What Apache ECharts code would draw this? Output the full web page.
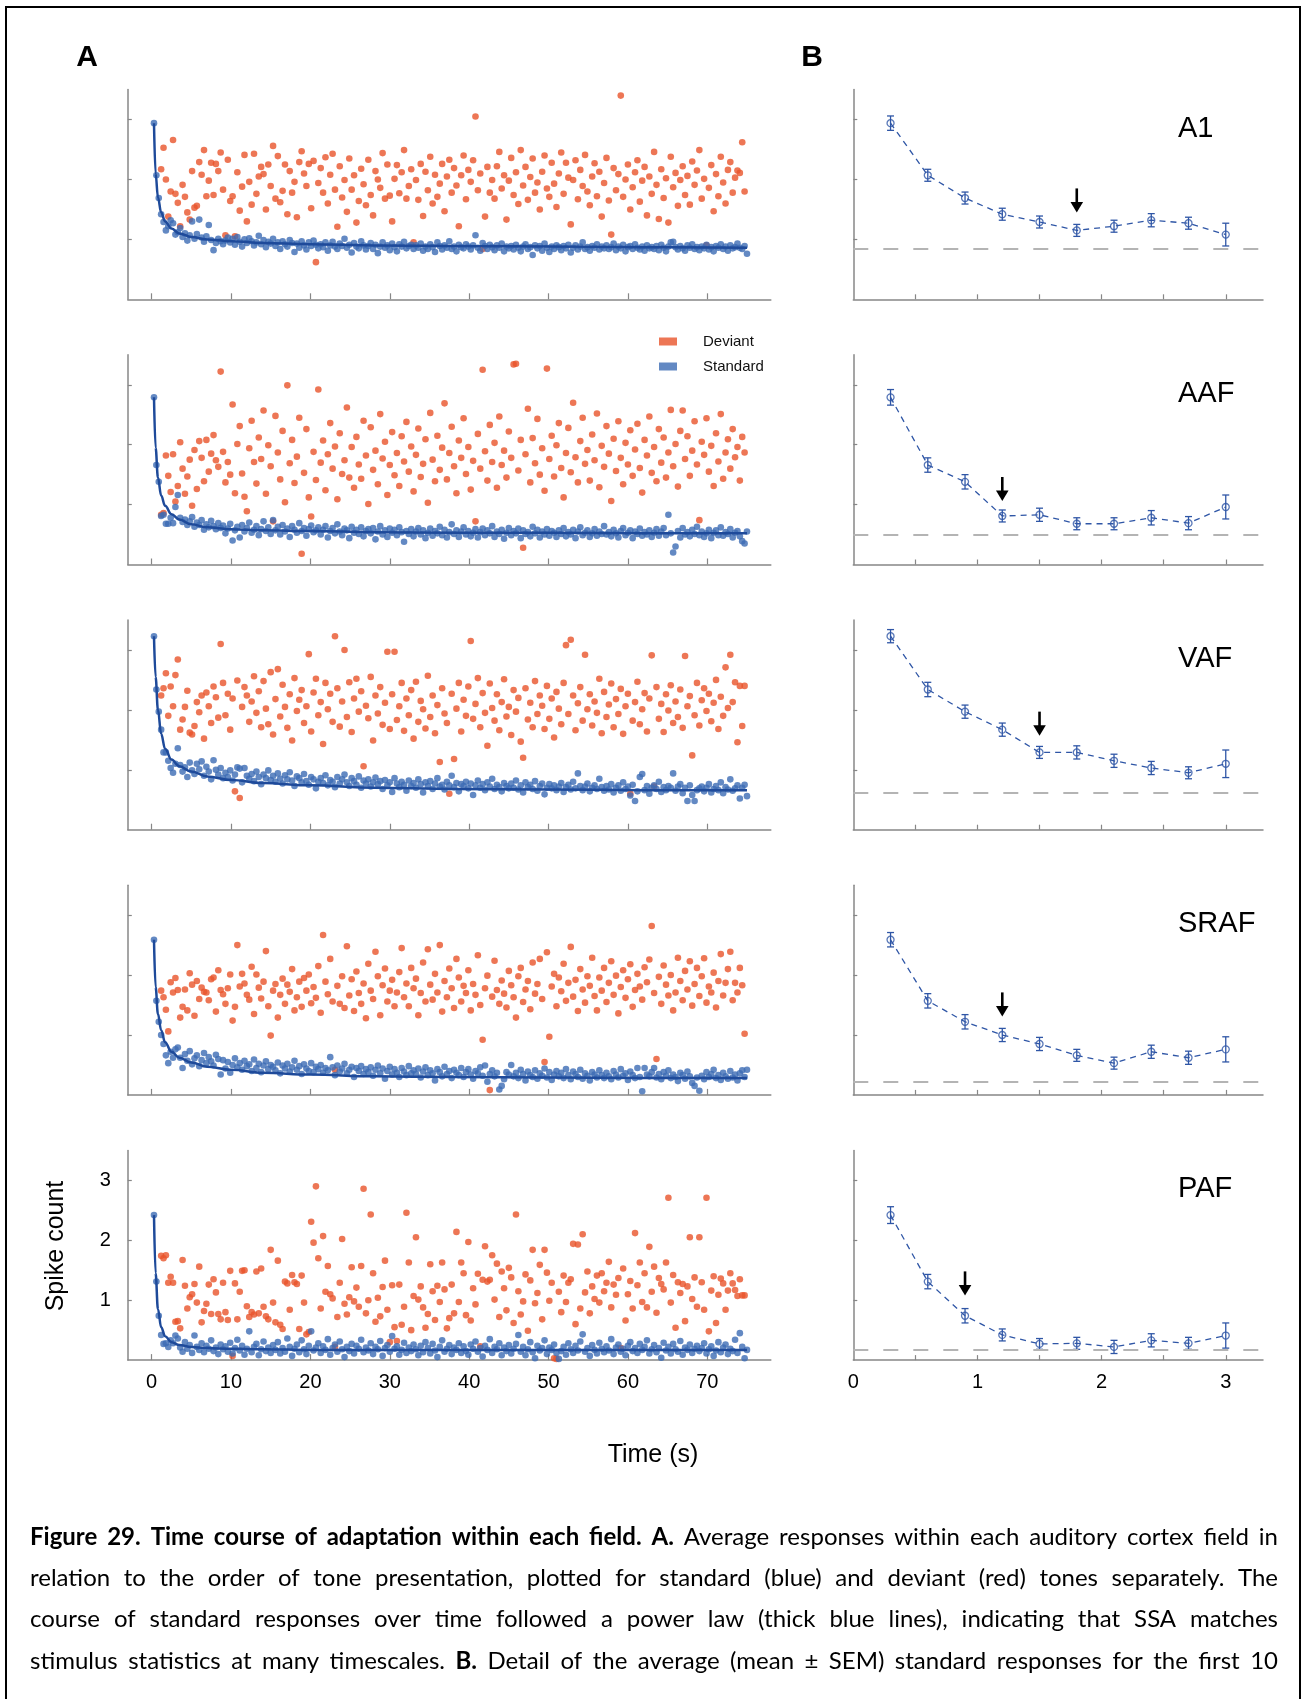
<!DOCTYPE html>
<html>
<head>
<meta charset="utf-8">
<title>Figure 29 - time course of adaptation</title>
<script src="https://cdn.jsdelivr.net/npm/echarts@6/dist/echarts.min.js"></script>
<style>
  html, body { margin: 0; padding: 0; background: #fff; }
  #chart { width: 1302px; height: 1699px; }
</style>
</head>
<body>
<div id="chart"></div>
<script>
// ---- data: spike counts are stored in hundredths ----
const fields = ['A1', 'AAF', 'VAF', 'SRAF', 'PAF']
const stdStep = 0.3   // s between tone presentations
const devStart = 1.2  // time of first deviant (s)

// standard responses (blue), one per tone from 0.3 s
const stdA1 = [
  294,207,169,142,129,115,122,132,127,108,
  112,119,104,110,98,107,130,101,109,133,103,96,105,124,99,82,94,101,97,92,
  98,103,95,101,91,104,96,88,100,94,102,97,90,95,106,92,99,87,96,93,
  101,89,95,84,97,92,88,99,94,79,93,86,97,90,83,95,89,98,91,85,
  92,87,95,81,90,96,88,84,93,89,101,86,91,78,94,88,85,97,90,83,
  89,94,84,91,77,88,95,86,90,82,93,87,80,92,88,96,85,89,91,84,
  90,86,93,81,88,84,92,87,79,95,89,83,90,86,97,84,88,80,91,87,
  85,92,88,83,90,107,86,81,94,89,84,91,87,82,90,86,93,80,88,85,
  89,83,91,86,80,88,92,84,87,74,90,85,89,81,93,86,79,88,84,90,
  87,82,89,85,91,78,86,90,83,88,95,84,87,81,89,86,92,83,88,85,
  90,84,87,93,82,88,85,91,80,87,89,84,92,86,83,88,81,90,85,87,
  84,89,82,91,86,80,88,95,96,87,83,89,85,81,90,86,92,84,87,82,
  88,85,91,83,87,80,89,86,92,84,88,81,90,85,87,93,86,84,89,76
]
const stdAAF = [
  279,166,138,81,83,68,68,78,69,96,
  116,78,71,75,66,72,79,63,70,66,74,58,67,62,73,64,59,69,61,65,
  52,60,68,40,57,63,45,66,55,61,70,53,58,64,49,59,72,56,62,51,
  74,57,63,50,66,55,60,46,64,58,53,69,56,61,48,59,65,54,57,62,
  50,58,64,45,56,61,52,67,55,49,60,57,44,63,53,58,51,62,47,56,
  59,52,61,42,55,64,50,57,46,60,53,58,49,62,54,38,56,51,59,47,
  55,61,50,57,44,53,60,48,56,52,63,49,58,45,54,67,51,57,46,55,
  62,50,56,47,53,59,45,54,60,49,57,52,64,46,55,51,58,43,53,61,
  49,56,52,60,44,57,51,54,47,63,52,58,45,55,50,59,48,56,53,46,
  57,51,61,47,54,50,58,44,55,62,49,53,57,46,52,59,48,55,51,64,
  50,54,47,58,52,45,56,61,49,53,57,44,55,51,60,48,54,50,57,46,
  53,59,48,55,61,49,83,52,20,30,56,45,61,50,54,47,58,51,63,49,
  55,46,52,58,44,53,57,49,62,48,54,51,59,45,53,56,47,39,35,55
]
const stdVAF = [
  323,234,197,167,129,129,115,103,95,110,
  136,108,97,104,88,112,99,93,110,101,114,90,105,97,84,116,100,92,103,86,
  95,88,99,82,92,104,102,79,103,90,85,93,81,97,88,76,92,86,99,83,
  90,80,94,85,77,91,84,96,82,73,89,86,79,93,81,75,88,84,69,80,
  86,78,91,74,83,80,71,88,77,84,92,79,73,86,81,75,89,70,82,77,
  84,72,79,87,76,81,68,83,74,79,63,86,77,71,80,75,65,82,73,78,
  70,84,76,62,79,73,81,68,77,86,72,75,67,80,74,90,71,78,64,76,
  73,80,69,77,58,74,82,70,76,66,79,72,85,68,75,71,64,78,73,69,
  77,70,82,67,74,62,79,71,75,68,81,65,73,77,59,70,76,69,74,66,
  72,78,63,71,75,67,80,69,94,73,66,72,77,64,70,74,68,85,71,65,
  73,67,76,62,70,74,65,79,68,72,57,75,48,64,88,93,66,73,60,70,
  74,68,80,63,71,66,73,70,94,65,72,76,61,70,48,74,58,48,66,69,
  72,64,70,76,62,68,73,66,79,61,71,67,84,65,69,74,52,70,75,56
]
const stdSRAF = [
  259,157,122,100,85,66,53,72,62,76,
  79,62,45,68,57,73,51,61,66,48,58,70,53,63,56,49,67,60,34,58,
  44,55,37,50,61,46,53,42,57,48,51,40,59,45,52,38,49,56,43,50,
  47,41,54,36,49,44,52,39,46,57,42,48,35,51,44,40,53,38,47,43,
  50,37,45,41,63,46,33,49,39,44,52,36,42,47,30,45,40,48,35,43,
  38,46,32,42,49,36,44,27,40,47,34,43,37,30,45,39,33,48,36,41,
  35,44,29,39,46,33,41,36,24,43,38,31,47,35,40,28,42,37,33,45,
  30,38,43,34,27,40,36,46,32,49,22,35,41,31,37,9,15,26,38,34,
  50,31,37,28,42,35,24,39,33,30,41,27,36,32,44,29,38,25,34,40,
  31,37,28,43,33,26,39,35,30,42,27,36,32,24,38,34,29,41,33,28,
  37,31,26,40,34,29,43,32,36,25,39,33,28,45,30,6,45,34,31,38,
  45,29,35,26,38,32,41,28,34,30,23,37,33,27,39,31,20,15,29,7,
  32,26,38,30,35,42,28,33,25,37,31,27,40,29,34,24,36,41,30,42
]
const stdPAF = [
  242,131,74,42,27,28,22,33,28,41,
  36,21,14,30,19,25,12,41,22,17,28,13,24,19,33,15,21,10,26,18,
  23,14,29,11,20,34,16,24,9,19,48,13,22,27,8,18,31,15,21,12,
  25,17,30,11,20,14,36,22,7,19,26,13,33,18,10,24,48,16,21,28,
  12,23,17,35,9,20,26,14,31,18,5,22,15,27,11,24,19,34,13,21,
  16,28,10,22,18,32,7,20,25,14,40,19,23,9,17,29,12,21,15,26,
  18,8,24,13,30,20,11,27,16,5,22,33,14,19,25,10,21,17,28,12,
  23,15,9,26,19,31,14,20,6,24,17,35,12,22,18,28,8,21,15,25,
  11,19,27,42,14,22,8,18,30,13,3,24,16,20,33,10,21,17,26,12,
  2,15,22,9,28,18,12,24,16,31,43,14,20,7,25,17,11,29,19,13,
  23,16,35,10,21,26,14,19,8,24,30,15,20,12,27,17,22,33,11,18,
  25,13,20,4,29,16,22,11,27,18,14,32,9,21,17,26,12,19,24,15,
  20,28,11,18,23,7,16,30,13,21,26,10,19,15,34,12,45,22,3,17
]

// deviant responses (red), one per tone from 1.2 s
const devA1 = [
  217,253,200,138,180,266,176,161,122,191,171,145,133,214,153,156,229,208,249,172,
  198,228,174,226,214,245,183,107,233,164,172,105,212,148,188,241,130,196,158,243,
  176,205,221,209,150,225,189,256,168,239,162,181,225,142,214,178,196,137,229,247,
  210,189,226,152,231,62,194,219,178,237,160,208,243,183,121,222,170,199,146,235,
  183,207,128,164,218,192,157,233,174,140,214,200,186,244,168,225,173,130,201,224,
  177,212,249,168,189,217,95,199,166,226,139,213,182,238,160,208,171,193,226,147,
  205,233,178,219,190,122,207,240,167,216,196,232,305,182,210,84,138,221,178,199,
  168,222,246,185,207,133,198,236,174,212,159,249,190,221,166,204,235,178,195,150,
  213,240,185,171,228,193,154,210,245,176,228,203,125,199,232,167,216,189,241,180,
  157,205,227,172,213,138,194,236,165,108,219,182,209,340,171,200,225,150,187,212,
  232,163,198,221,140,205,176,246,191,134,217,169,202,128,238,187,211,156,199,222,
  174,206,158,230,191,215,249,168,201,90,186,224,147,209,172,238,195,160,216,229,
  178,203,215,211,262,180
]
const devAAF = [
  83,86,182,148,121,184,105,131,204,160,118,147,175,98,191,126,206,178,139,208,
  155,185,216,174,163,322,188,137,171,150,267,119,201,231,152,113,89,194,240,171,
  135,212,176,257,118,199,164,72,248,187,142,223,104,299,169,208,136,180,245,18,
  153,226,112,80,188,141,292,170,207,124,184,236,160,197,109,219,151,174,262,145,
  196,128,213,167,143,240,182,101,229,158,190,134,251,177,205,116,166,221,149,186,
  131,214,172,238,155,197,122,183,227,146,168,209,103,253,175,139,215,158,195,269,
  142,186,230,164,119,207,178,244,151,196,125,173,72,218,160,325,189,140,233,171,
  203,128,247,166,190,145,222,178,334,335,157,208,28,184,260,137,211,169,243,150,
  194,123,327,176,215,147,199,236,161,112,186,228,154,270,179,137,206,245,168,191,
  140,217,174,252,129,198,163,231,185,106,210,156,239,178,134,203,167,224,148,192,
  235,161,120,208,182,247,153,196,139,226,170,212,145,187,258,164,201,130,223,257,
  176,214,148,190,239,167,74,205,183,244,155,198,131,219,172,251,143,187,209,160,
  226,179,196,140,213,187
]
const devVAF = [
  224,236,261,190,239,206,258,284,167,184,205,232,162,159,173,213,196,224,152,229,
  206,178,239,221,187,310,245,191,227,167,219,64,249,53,205,238,224,180,214,256,
  195,231,171,248,202,176,263,159,218,268,189,242,205,170,226,149,253,198,217,233,
  178,206,293,164,229,252,191,213,143,245,201,227,180,323,236,172,214,300,188,246,
  163,219,252,197,231,106,207,186,255,149,224,194,238,175,212,297,168,226,297,183,
  206,245,165,219,191,233,152,247,180,215,201,169,257,188,224,161,208,113,236,194,
  178,60,227,118,202,245,164,217,190,239,315,185,210,253,171,228,195,140,244,203,
  182,226,166,213,251,189,205,158,233,197,220,147,120,236,184,212,171,248,193,224,
  207,168,240,185,219,154,230,202,176,245,308,193,317,224,166,211,238,182,292,201,
  226,174,214,195,252,161,230,188,209,244,171,218,193,235,160,206,227,60,182,213,
  247,176,201,228,164,219,291,72,238,185,210,163,226,199,241,178,214,188,234,170,
  290,206,223,124,191,245,174,216,236,198,227,181,212,250,168,222,190,271,203,292,
  213,246,146,240,173,240
]
const devSRAF = [
  174,163,142,106,188,171,195,175,129,147,176,141,203,184,132,190,160,179,172,171,
  158,193,196,139,208,175,168,152,178,201,124,147,250,181,202,186,167,159,214,135,
  201,179,161,189,240,148,99,174,185,129,167,194,152,184,172,210,141,163,189,147,
  195,174,201,153,180,162,215,137,267,189,168,227,156,42,182,152,198,145,248,166,
  193,140,206,170,152,186,128,219,174,160,239,198,133,183,211,156,174,192,148,171,
  205,245,163,186,148,212,178,194,133,170,221,156,243,184,159,202,171,250,139,190,
  163,211,178,145,227,196,156,182,170,208,141,185,167,233,150,92,178,199,8,164,
  224,175,152,191,169,146,207,183,163,129,198,212,155,176,190,143,221,169,185,227,
  160,55,238,97,181,202,148,196,173,219,157,187,247,164,192,140,210,176,154,198,
  182,229,165,141,196,174,212,155,187,223,167,199,136,180,208,162,193,218,147,175,
  202,181,159,213,188,226,282,170,60,197,152,216,184,166,200,141,171,229,190,158,
  207,176,223,149,185,212,165,198,228,154,181,171,204,146,190,235,166,187,210,239,
  158,187,171,212,183,102
]
const devPAF = [
  174,170,175,129,139,129,64,65,53,167,124,86,105,110,127,96,156,63,82,94,
  126,77,135,113,77,68,129,80,67,149,7,128,68,114,149,150,90,72,80,76,
  148,78,153,89,73,68,184,96,63,166,59,52,131,128,84,142,130,127,52,141,
  96,43,47,231,196,290,170,86,207,114,157,110,103,22,72,129,202,94,76,105,
  155,98,121,89,157,286,78,100,243,145,64,104,73,122,166,84,30,125,55,32,
  126,59,89,246,163,50,107,205,101,123,88,54,77,160,115,67,124,97,163,118,
  53,70,126,78,214,97,163,145,75,197,66,120,93,144,23,134,190,131,134,175,
  101,161,72,148,120,83,154,138,62,243,115,76,98,143,49,133,184,95,112,159,
  68,184,146,99,129,3,2,114,80,141,97,129,135,194,60,193,86,210,113,148,
  78,123,102,141,96,145,115,129,164,88,126,109,137,20,153,66,110,132,86,212,
  125,163,97,145,88,189,114,156,79,137,127,118,163,271,96,142,54,130,112,127,
  65,123,205,102,138,89,205,130,84,271,48,116,140,62,109,136,128,84,116,145,
  128,117,107,135,108,108
]

// power-law fits
const fitT = [0.3, 0.5, 0.8, 1.2, 1.7, 2.5, 3.5, 5, 7, 10, 14, 20, 28, 38, 50, 62, 75]
const fitA1 = [294,210,170,145,130,118,110,104,100,97,94,92,90,89,88,87,86]
const fitAAF = [279,195,145,115,98,84,75,67,62,59,57,56,54,53,53,52,52]
const fitVAF = [323,255,200,160,135,117,106,97,89,83,78,74,70,68,67,66,66]
const fitSRAF = [259,180,135,108,88,72,62,54,47,42,37,34,31,30,29,28,28]
const fitPAF = [242,145,85,55,40,30,25,22,20,19,18,17,17,17,17,17,17]

// SEM of the first 10 standards (panel B)
const semA1 = [12,10,10,10,10,10,10,11,10,19]
const semAAF = [13,12,12,10,11,10,10,12,11,20]
const semVAF = [11,12,11,11,10,11,11,11,10,23]
const semSRAF = [12,12,12,11,11,10,10,11,11,21]
const semPAF = [14,12,12,10,9,10,11,11,10,21]

const baseLine = [0.84, 0.50, 0.61, 0.22, 0.17]   // grey dashed asymptote
const arrowX = [1.8, 1.2, 1.5, 1.2, 0.9]
const arrowTip = [1.45, 1.06, 1.57, 1.31, 1.08]

const ticksA = [0, 10, 20, 30, 40, 50, 60, 70]
const ticksB = [0.5, 1, 1.5, 2, 2.5, 3]
const labelsB = [0, 1, 2, 3]
const ticksY = [1, 2, 3]

const stdAll = [stdA1, stdAAF, stdVAF, stdSRAF, stdPAF]
const devAll = [devA1, devAAF, devVAF, devSRAF, devPAF]
const fitAll = [fitA1, fitAAF, fitVAF, fitSRAF, fitPAF]
const semAll = [semA1, semAAF, semVAF, semSRAF, semPAF]

// ---- styles ----
const FONT = '"Liberation Sans", Arial, sans-serif'
const RED = '#E8542B'
const BLUE = '#3C6CB4'
const FIT = '#1E4A9A'
const MEAN = '#2F56A6'
const AXIS = '#878787'

const rowBottom = [299.3, 564.5, 829.7, 1094.9, 1360.1]
const plotH = 209.7

const chart = echarts.init(document.getElementById('chart'))

// error bar with caps
function renderErr(params, api) {
  const x = api.value(0), y = api.value(1), e = api.value(2)
  const top = api.coord([x, y + e])
  const bot = api.coord([x, y - e])
  const st = { stroke: MEAN, lineWidth: 1.3 }
  return {
    type: 'group',
    children: [
      { type: 'line', shape: { x1: top[0], y1: top[1], x2: bot[0], y2: bot[1] }, style: st },
      { type: 'line', shape: { x1: top[0] - 3.5, y1: top[1], x2: top[0] + 3.5, y2: top[1] }, style: st },
      { type: 'line', shape: { x1: bot[0] - 3.5, y1: bot[1], x2: bot[0] + 3.5, y2: bot[1] }, style: st }
    ]
  }
}

// black down arrow, tip at the data point
function renderArrow(params, api) {
  const p = api.coord([api.value(0), api.value(1)])
  return {
    type: 'group',
    children: [
      { type: 'line', shape: { x1: p[0], y1: p[1] - 24, x2: p[0], y2: p[1] - 9 }, style: { stroke: '#000', lineWidth: 2.6 } },
      { type: 'polygon', shape: { points: [[p[0] - 6.3, p[1] - 10.5], [p[0] + 6.3, p[1] - 10.5], [p[0], p[1]]] }, style: { fill: '#000' } }
    ]
  }
}

const grid = [], xAxis = [], yAxis = [], series = []

function yAx(gi, showLabel) {
  return {
    type: 'value', gridIndex: gi, min: 0, max: 3.5,
    axisLine: { show: true, onZero: false, lineStyle: { color: AXIS, width: 1.5 } },
    axisTick: { show: true, inside: true, length: 4, customValues: ticksY, lineStyle: { color: AXIS, width: 1.2 } },
    axisLabel: { show: showLabel, customValues: ticksY, margin: 17, color: '#000', fontSize: 20, fontFamily: FONT },
    splitLine: { show: false }
  }
}

for (let i = 0; i < 5; i++) {
  const top = rowBottom[i] - plotH
  const last = i === 4
  const ga = 2 * i, gb = 2 * i + 1

  grid.push({ left: 127.8, top: top, width: 643, height: plotH })
  grid.push({ left: 853.3, top: top, width: 409.7, height: plotH })

  xAxis.push({
    type: 'value', gridIndex: ga, min: -3, max: 78,
    axisLine: { onZero: false, lineStyle: { color: AXIS, width: 1.5 } },
    axisTick: { show: true, inside: true, length: 6, customValues: ticksA, lineStyle: { color: AXIS, width: 1.2 } },
    axisLabel: { show: last, customValues: ticksA, margin: 12, color: '#000', fontSize: 20, fontFamily: FONT },
    splitLine: { show: false }
  })
  xAxis.push({
    type: 'value', gridIndex: gb, min: 0, max: 3.3,
    axisLine: { onZero: false, lineStyle: { color: AXIS, width: 1.5 } },
    axisTick: { show: true, inside: true, length: 5, customValues: ticksB, lineStyle: { color: AXIS, width: 1.2 } },
    axisLabel: { show: last, customValues: labelsB, margin: 12, color: '#000', fontSize: 20, fontFamily: FONT },
    splitLine: { show: false }
  })
  yAxis.push(yAx(ga, last))
  yAxis.push(yAx(gb, false))

  const std = stdAll[i], dev = devAll[i], fit = fitAll[i], sem = semAll[i]

  // ---- panel A ----
  series.push({
    name: 'Deviant', type: 'scatter', xAxisIndex: ga, yAxisIndex: ga,
    data: dev.map((v, j) => [devStart + stdStep * j, v / 100]),
    symbolSize: 6.6, itemStyle: { color: RED }, silent: true, z: 2
  })
  series.push({
    name: 'Standard', type: 'scatter', xAxisIndex: ga, yAxisIndex: ga,
    data: std.map((v, j) => [stdStep * (j + 1), v / 100]),
    symbolSize: 6.6, itemStyle: { color: BLUE }, silent: true, z: 3
  })
  series.push({
    name: 'fit', type: 'line', xAxisIndex: ga, yAxisIndex: ga,
    data: fitT.map((t, k) => [t, fit[k] / 100]),
    smooth: 0.4, smoothMonotone: 'x', symbol: 'none',
    lineStyle: { color: FIT, width: 2.5 }, silent: true, z: 4
  })

  // ---- panel B: first 10 standards ----
  const first = std.slice(0, 10).map((v, k) => [stdStep * (k + 1), v / 100])
  series.push({
    name: 'mean', type: 'line', xAxisIndex: gb, yAxisIndex: gb,
    data: first, symbol: 'none', silent: true,
    lineStyle: { color: MEAN, width: 1.3, type: [6, 5] },
    markLine: {
      silent: true, symbol: 'none', label: { show: false },
      lineStyle: { color: '#b4b4b4', width: 2, type: [15, 15] },
      data: [{ yAxis: baseLine[i] }]
    }
  })
  series.push({
    name: 'sem', type: 'custom', xAxisIndex: gb, yAxisIndex: gb,
    renderItem: renderErr, silent: true,
    data: first.map((p, k) => [p[0], p[1], sem[k] / 100]),
    encode: { x: 0, y: 1 }
  })
  series.push({
    name: 'points', type: 'scatter', xAxisIndex: gb, yAxisIndex: gb,
    data: first, symbol: 'circle', symbolSize: 7, silent: true, z: 3,
    itemStyle: { color: 'rgba(255,255,255,0)', borderColor: MEAN, borderWidth: 1.3 }
  })
  series.push({
    name: 'arrow', type: 'custom', xAxisIndex: gb, yAxisIndex: gb,
    renderItem: renderArrow, silent: true,
    data: [[arrowX[i], arrowTip[i]]], encode: { x: 0, y: 1 }
  })
}

// ---- caption, justified word by word ----
const captionLines = [
  [['Figure 29. Time course of adaptation within each field. A.', true], [' Average responses within each auditory cortex field in', false]],
  [['relation to the order of tone presentation, plotted for standard (blue) and deviant (red) tones separately. The', false]],
  [['course of standard responses over time followed a power law (thick blue lines), indicating that SSA matches', false]],
  [['stimulus statistics at many timescales. ', false], ['B.', true], [' Detail of the average (mean \u00b1 SEM) standard responses for the first 10', false]]
]
const capFont = 'Lato, "Open Sans", sans-serif'
const capLeft = 30, capRight = 1278, capY0 = 1537.4, capPitch = 41.17
const ctx = document.createElement('canvas').getContext('2d')
const graphics = []

function splitWords(line) {
  const words = []
  line.forEach(([txt, bold]) => txt.split(' ').forEach(w => { if (w) words.push([w, bold]) }))
  return words
}
function measure(w, bold, size) {
  ctx.font = (bold ? 'bold ' : '') + size + 'px ' + capFont
  return ctx.measureText(w).width
}
// biggest size at which every line still fits with plain spaces
const fitSizes = captionLines.map(line => {
  const words = splitWords(line)
  let w = 0
  words.forEach(([t, b]) => { w += measure(t, b, 100) })
  w += (words.length - 1) * measure(' ', false, 100)
  return (capRight - capLeft) / w * 100
})
const capSize = Math.min(24, Math.floor(Math.min(...fitSizes) * 10) / 10)

captionLines.forEach((line, li) => {
  const words = splitWords(line)
  const widths = words.map(([w, b]) => measure(w, b, capSize))
  const total = widths.reduce((a, b) => a + b, 0)
  const gap = (capRight - capLeft - total) / (words.length - 1)
  let x = capLeft
  words.forEach(([w, b], k) => {
    graphics.push({
      type: 'text', x: x, y: capY0 + li * capPitch, silent: true,
      style: { text: w, fontSize: capSize, fontFamily: capFont, fontWeight: b ? 'bold' : 'normal', fill: '#000', verticalAlign: 'middle' }
    })
    x += widths[k] + gap
  })
})

// frame, panel letters, field names, axis titles
graphics.push({ type: 'rect', shape: { x: 6, y: 7, width: 1294, height: 1800 }, style: { fill: 'none', stroke: '#000', lineWidth: 2 }, silent: true })
graphics.push({ type: 'text', x: 87, y: 57.5, style: { text: 'A', fontSize: 30, fontWeight: 'bold', fontFamily: FONT, fill: '#000', align: 'center', verticalAlign: 'middle' } })
graphics.push({ type: 'text', x: 812, y: 57.5, style: { text: 'B', fontSize: 30, fontWeight: 'bold', fontFamily: FONT, fill: '#000', align: 'center', verticalAlign: 'middle' } })
fields.forEach((f, i) => {
  graphics.push({ type: 'text', x: 1178, y: rowBottom[i] - plotH + 39, style: { text: f, fontSize: 29, fontFamily: FONT, fill: '#000', verticalAlign: 'middle' } })
})
graphics.push({ type: 'text', x: 56, y: 1246, rotation: Math.PI / 2, style: { text: 'Spike count', fontSize: 25, fontFamily: FONT, fill: '#000', align: 'center', verticalAlign: 'middle' } })
graphics.push({ type: 'text', x: 653, y: 1455, style: { text: 'Time (s)', fontSize: 25, fontFamily: FONT, fill: '#000', align: 'center', verticalAlign: 'middle' } })

chart.setOption({
  animation: false,
  backgroundColor: '#fff',
  legend: {
    data: [{ name: 'Deviant', icon: 'rect' }, { name: 'Standard', icon: 'rect' }],
    orient: 'vertical', left: 659, top: 334, padding: 0,
    itemWidth: 18, itemHeight: 8, itemGap: 10, selectedMode: false,
    textStyle: { fontSize: 15, fontFamily: FONT, color: '#111', padding: [0, 0, 0, 21] }
  },
  grid: grid,
  xAxis: xAxis,
  yAxis: yAxis,
  series: series,
  graphic: graphics
})
</script>
</body>
</html>
